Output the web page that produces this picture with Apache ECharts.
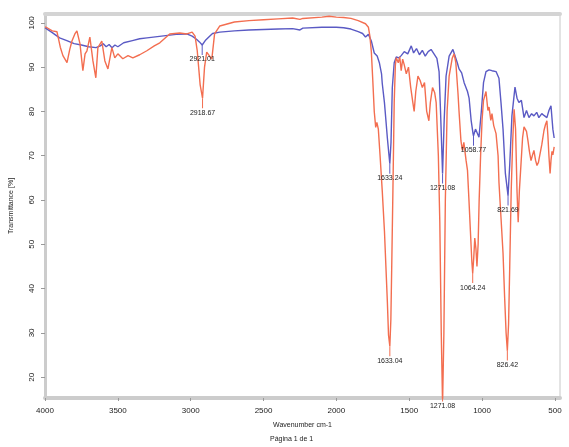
<!DOCTYPE html>
<html>
<head>
<meta charset="utf-8">
<script src="https://cdn.jsdelivr.net/npm/echarts@6/dist/echarts.min.js"></script>
<style>
  html, body { margin: 0; padding: 0; background: #fff; }
  #ftir { width: 569px; height: 447px; }
</style>
</head>
<body>
<div id="ftir"></div>
<script>
// tick labels
var xTicks = [4000, 3500, 3000, 2500, 2000, 1500, 1000, 500];
var yTicks = [20, 30, 40, 50, 60, 70, 80, 90, 100];

// blue spectrum (wavenumber, transmittance %)
var blueWn = [4000, 3986, 3950, 3900, 3850, 3800, 3750, 3700, 3650, 3620, 3600, 3580, 3560, 3540, 3520, 3500, 3460, 3400, 3350, 3300, 3200, 3100, 3027, 2990, 2960, 2940, 2921.01, 2900, 2870, 2850, 2800, 2700, 2600, 2500, 2400, 2300, 2250, 2230, 2100, 2000, 1950, 1900, 1850, 1820, 1800, 1780, 1760, 1740, 1720, 1705, 1690, 1685, 1670, 1660, 1650, 1640, 1633.24, 1625, 1616, 1603, 1589, 1570, 1555, 1534, 1510, 1486, 1470, 1450, 1430, 1410, 1390, 1370, 1350, 1330, 1310, 1295, 1285, 1271.08, 1260, 1247, 1226, 1200, 1192, 1170, 1158, 1140, 1123, 1100, 1089, 1075, 1062, 1058.77, 1045, 1034, 1021, 1005, 990, 973, 952, 932, 904, 884, 870, 856, 840, 821.69, 810, 795, 774, 760, 747, 730, 712, 695, 678, 660, 644, 625, 610, 590, 575, 555, 541, 527, 514, 505];
var blueT = [98.9, 98.6, 97.8, 96.6, 96.0, 95.3, 95.0, 94.6, 94.4, 94.8, 95.3, 94.6, 95.1, 94.4, 95.0, 94.6, 95.5, 96.0, 96.4, 96.6, 97.0, 97.4, 97.5, 97.0, 96.3, 95.7, 95.0, 96.0, 97.0, 97.6, 97.9, 98.2, 98.4, 98.5, 98.6, 98.7, 98.4, 98.8, 99.0, 99.0, 98.9, 98.6, 98.0, 97.6, 96.8, 97.4, 95.9, 93.2, 92.5, 91.0, 88.5, 86.3, 82.0, 78.0, 74.0, 70.5, 68.2, 73.0, 85.4, 91.0, 92.3, 92.1, 92.6, 93.5, 93.0, 94.8, 93.2, 94.2, 92.8, 93.8, 92.5, 93.5, 94.0, 93.0, 92.0, 89.0, 80.0, 66.0, 78.0, 88.0, 92.5, 94.0, 94.1, 91.0, 89.6, 88.7, 86.5, 84.5, 83.0, 78.0, 75.0, 74.5, 76.0, 75.2, 74.2, 80.0, 86.5, 89.0, 89.4, 89.2, 89.0, 87.5, 82.0, 76.0, 66.0, 61.0, 68.0, 79.0, 85.5, 83.0, 82.0, 82.5, 78.6, 80.2, 78.6, 79.5, 79.0, 79.8, 78.6, 79.5, 79.1, 78.6, 80.2, 81.3, 76.0, 74.0];

// red spectrum (wavenumber, transmittance %)
var redWn = [4000, 3986, 3950, 3918, 3895, 3877, 3849, 3830, 3815, 3795, 3781, 3760, 3740, 3725, 3712, 3692, 3671, 3651, 3637, 3610, 3589, 3568, 3541, 3521, 3500, 3466, 3430, 3397, 3350, 3301, 3250, 3212, 3144, 3075, 3027, 2990, 2970, 2955, 2935, 2918.67, 2905, 2890, 2870, 2855, 2836, 2800, 2700, 2600, 2500, 2400, 2300, 2250, 2230, 2100, 2050, 2000, 1950, 1900, 1850, 1800, 1780, 1770, 1760, 1750, 1740, 1730, 1722, 1712, 1700, 1685, 1670, 1660, 1650, 1642, 1633.04, 1626, 1620, 1612, 1603, 1595, 1589, 1575, 1565, 1555, 1545, 1534, 1520, 1505, 1490, 1475, 1466, 1455, 1440, 1425, 1410, 1395, 1380, 1365, 1355, 1340, 1325, 1315, 1300, 1290, 1280, 1271.08, 1262, 1252, 1240, 1226, 1205, 1192, 1180, 1165, 1158, 1145, 1135, 1125, 1110, 1100, 1090, 1080, 1070, 1064.24, 1057, 1050, 1042, 1035, 1027, 1020, 1010, 1000, 990, 973, 960, 952, 940, 932, 920, 904, 890, 884, 870, 856, 845, 835, 826.42, 818, 810, 800, 790, 780, 770, 760, 752, 744, 733, 722, 712, 695, 685, 675, 664, 655, 644, 633, 623, 613, 603, 590, 575, 565, 555, 548, 541, 533, 527, 520, 514, 505];
var redT = [99.1, 98.9, 98.2, 98.0, 94.5, 92.6, 91.0, 94.0, 95.9, 97.5, 98.2, 95.3, 89.2, 93.0, 93.7, 96.8, 91.4, 87.6, 94.4, 95.9, 91.4, 89.6, 94.4, 92.1, 93.0, 91.9, 92.6, 92.1, 92.8, 93.7, 94.8, 95.5, 97.5, 97.7, 97.5, 97.9, 97.0, 93.7, 86.0, 83.0, 90.0, 93.4, 92.5, 91.8, 97.5, 99.3, 100.2, 100.5, 100.7, 100.9, 101.1, 100.8, 101.0, 101.3, 101.5, 101.3, 101.2, 101.0, 100.5, 99.8, 99.0, 97.0, 93.5, 87.0, 80.0, 76.4, 77.5, 76.0, 70.0, 62.0, 53.0, 45.0, 37.0, 29.5, 27.0, 33.0, 45.0, 62.0, 82.0, 90.5, 92.1, 91.0, 92.3, 89.2, 91.8, 90.5, 88.5, 90.0, 85.5, 82.0, 80.0, 84.5, 88.0, 87.0, 85.4, 86.5, 80.0, 77.9, 82.0, 85.4, 84.2, 82.0, 70.0, 55.0, 30.0, 14.0, 30.0, 60.0, 80.0, 88.0, 92.0, 93.0, 91.0, 84.0, 80.0, 73.4, 71.2, 73.0, 69.0, 66.7, 60.0, 53.0, 46.0, 43.5, 47.0, 51.4, 49.0, 45.0, 50.0, 59.9, 70.0, 78.0, 82.5, 84.5, 80.2, 81.0, 78.0, 79.5, 76.8, 75.0, 70.0, 64.0, 56.0, 48.0, 38.0, 30.0, 26.0, 32.0, 45.0, 62.0, 73.0, 80.5, 76.0, 62.0, 55.0, 62.0, 68.0, 74.0, 76.5, 75.5, 73.4, 71.0, 68.9, 70.0, 71.2, 69.0, 67.8, 68.5, 68.9, 72.5, 75.7, 77.0, 77.9, 74.5, 70.0, 66.0, 68.9, 71.0, 70.2, 72.0];

// peak labels
var bluePeaks = [2921.01, 1633.24, 1271.08, 1058.77, 821.69];
var blueLabels = ['2921.01', '1633.24', '1271.08', '1058.77', '821.69'];
var redPeaks = [2918.67, 1633.04, 1271.08, 1064.24, 826.42];
var redLabels = ['2918.67', '1633.04', '1271.08', '1064.24', '826.42'];

var chart = echarts.init(document.getElementById('ftir'));

function pairs(wn, t) {
    return wn.map(function (w, i) { return [w, t[i]]; });
}

function peakMarks(peaks, labels, wn, t, color) {
    return peaks.map(function (p, i) {
        var v = t[wn.indexOf(p)];
        var clipped = v < 15.4;
        if (clipped) v = 15.4;
        return {
            coord: [p, v],
            symbol: 'rect',
            symbolSize: clipped ? [1, 4] : [1, 10],
            symbolOffset: clipped ? [0, 2] : [0, 5],
            itemStyle: { color: color },
            label: {
                show: true,
                formatter: labels[i],
                position: 'bottom',
                distance: 1,
                color: '#222',
                fontSize: 7,
                fontFamily: 'Liberation Sans'
            }
        };
    });
}

var blueColor = '#5a5ac4';
var redColor = '#f36e50';

chart.setOption({
    backgroundColor: '#fff',
    animation: false,
    textStyle: { fontFamily: 'Liberation Sans' },
    title: {
        text: 'Página 1 de 1',
        left: 265,
        top: 431,
        textStyle: { fontSize: 7, fontWeight: 'normal', color: '#222' }
    },
    grid: {
        left: 45,
        right: 9,
        top: 14,
        bottom: 49,
        show: true,
        borderColor: '#c8c8c8',
        borderWidth: 1
    },
    xAxis: [{
        type: 'value',
        inverse: true,
        min: 465,
        max: 4000,
        position: 'bottom',
        name: 'Wavenumber cm-1',
        nameLocation: 'middle',
        nameGap: 24,
        nameTextStyle: { fontSize: 7, color: '#222' },
        axisLine: { lineStyle: { color: '#cccccc', width: 4 } },
        axisTick: { customValues: xTicks, length: 3, lineStyle: { color: '#999' } },
        axisLabel: {
            customValues: xTicks,
            fontSize: 8,
            color: '#222',
            margin: 9,
            formatter: function (v) { return String(v); }
        },
        splitLine: { show: false }
    }, {
        type: 'value',
        inverse: true,
        min: 465,
        max: 4000,
        position: 'top',
        axisLine: { lineStyle: { color: '#d4d4d4', width: 4 } },
        axisTick: { show: false },
        axisLabel: { show: false },
        splitLine: { show: false }
    }],
    yAxis: {
        type: 'value',
        min: 15.3,
        max: 102,
        name: 'Transmittance [%]',
        nameLocation: 'middle',
        nameGap: 30,
        nameRotate: 90,
        nameTextStyle: { fontSize: 7, color: '#222' },
        axisLine: { show: true, lineStyle: { color: '#cccccc', width: 3 } },
        axisTick: { show: true, customValues: yTicks, length: 4, lineStyle: { color: '#999' } },
        axisLabel: { customValues: yTicks, rotate: 90, fontSize: 8, color: '#222', margin: 9 },
        splitLine: { show: false }
    },
    series: [{
        name: 'blue',
        type: 'line',
        data: pairs(blueWn, blueT),
        symbol: 'none',
        lineStyle: { color: blueColor, width: 1.4 },
        markPoint: { data: peakMarks(bluePeaks, blueLabels, blueWn, blueT, blueColor) },
        z: 2
    }, {
        name: 'red',
        type: 'line',
        data: pairs(redWn, redT),
        symbol: 'none',
        lineStyle: { color: redColor, width: 1.4 },
        markPoint: { data: peakMarks(redPeaks, redLabels, redWn, redT, redColor) },
        z: 3
    }]
});
</script>
</body>
</html>
